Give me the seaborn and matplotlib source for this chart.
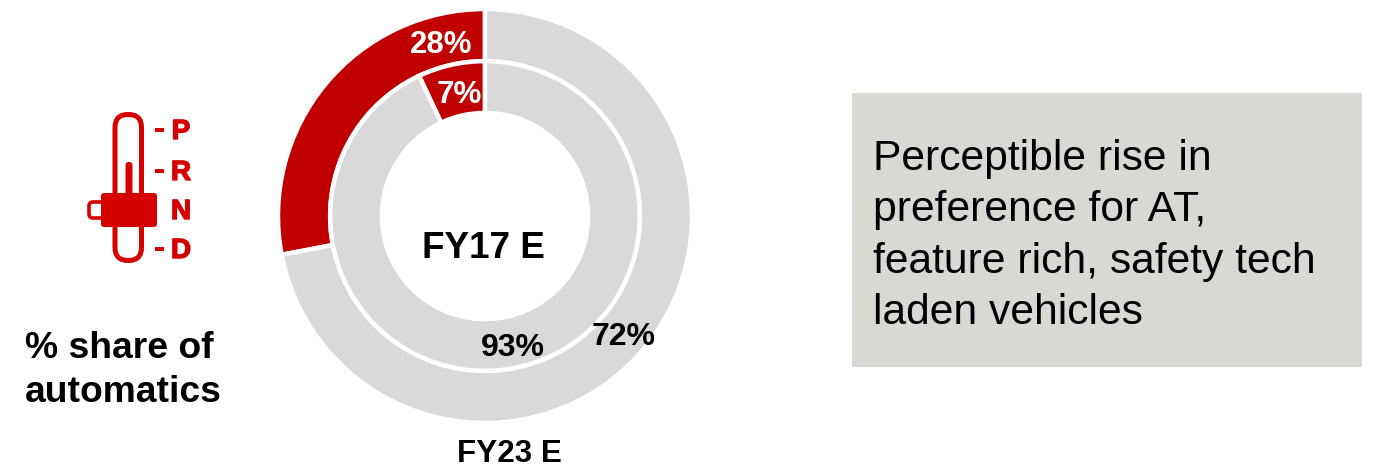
import matplotlib
matplotlib.use("Agg")
import matplotlib.pyplot as plt
import matplotlib.patheffects as pe
from matplotlib.patches import FancyBboxPatch, Rectangle
import seaborn as sns

sns.set_theme(style="white")
plt.rcParams["font.family"] = ["Liberation Sans", "DejaVu Sans"]

# Share of automatic transmissions, per fiscal year
share_labels = ["Automatic", "Other"]
fy23_share = [28, 72]
fy17_share = [7, 93]
ring_colors = ["#C00000", "#D9D9D9"]
gears = ["P", "R", "N", "D"]
note_lines = ["Perceptible rise in", "preference for AT,", "feature rich, safety tech", "laden vehicles"]

W, H = 1387, 468
fig = plt.figure(figsize=(W / 100, H / 100), dpi=100, facecolor="white")

# Concentric donuts
cx, cy, R = 485, 216, 207
ax = fig.add_axes([(cx - R) / W, 1 - (cy + R) / H, 2 * R / W, 2 * R / H])
edge = dict(edgecolor="white", linewidth=3.2)
ax.pie(fy23_share, colors=ring_colors, radius=1.0, startangle=90, counterclock=True,
       wedgeprops=dict(width=0.252, **edge), frame=True)
ax.pie(fy17_share, colors=ring_colors, radius=0.748, startangle=90, counterclock=True,
       wedgeprops=dict(width=0.25, **edge), frame=True)
ax.set_xlim(-1, 1)
ax.set_ylim(-1, 1)
ax.axis("off")

# Overlay in pixel units for the icon, note box and captions
top = fig.add_axes([0, 0, 1, 1])
top.set_xlim(0, W)
top.set_ylim(H, 0)
top.axis("off")
top.patch.set_alpha(0)


def px(text, x, y, size, color="black", weight="bold", ha="center", stroke=0):
    t = top.text(x, y, text, fontsize=size, color=color, fontweight=weight, ha=ha, va="center", zorder=5)
    if stroke:
        t.set_path_effects([pe.withStroke(linewidth=stroke, foreground=color)])


px(f"{fy23_share[0]}%", 441, 45, 22.4, color="white")
px(f"{fy17_share[0]}%", 459, 95, 22.6, color="white")
px(f"{fy23_share[1]}%", 624, 337, 23)
px(f"{fy17_share[1]}%", 513, 348, 23)
px("FY17 E", 483, 249, 26.6)
px("FY23 E", 509, 454, 22.6)
px("% share of", 25, 348, 26.8, ha="left")
px("automatics", 25, 393, 26.8, ha="left")

# Gear-shift icon
icon = "#D50000"
top.add_patch(FancyBboxPatch((115, 114.5), 26.5, 146, boxstyle="round,pad=0,rounding_size=13",
                             fc="none", ec=icon, lw=3.6))
top.add_patch(FancyBboxPatch((89, 202), 16, 16, boxstyle="round,pad=0,rounding_size=4",
                             fc="none", ec=icon, lw=2.6))
top.add_patch(FancyBboxPatch((125.5, 162), 7, 36, boxstyle="round,pad=0,rounding_size=3.4", fc=icon, ec="none"))
top.add_patch(FancyBboxPatch((101, 193), 56, 34, boxstyle="round,pad=0,rounding_size=3", fc=icon, ec="none"))
for g, gy, dash in zip(gears, [130, 171, 210, 249], [True, True, False, True]):
    px(g, 181, gy + 2, 20, color=icon, stroke=1.0)
    if dash:
        top.add_patch(Rectangle((155, gy - 2), 9, 4, fc=icon, ec="none"))

# Note box
top.add_patch(Rectangle((852, 93), 510, 274, fc="#D9D8D4", ec="none"))
for line, ly in zip(note_lines, [159, 210, 262, 313]):
    px(line, 873, ly, 30.7, weight="normal", ha="left")

fig.savefig("out.png", dpi=100, facecolor="white")
